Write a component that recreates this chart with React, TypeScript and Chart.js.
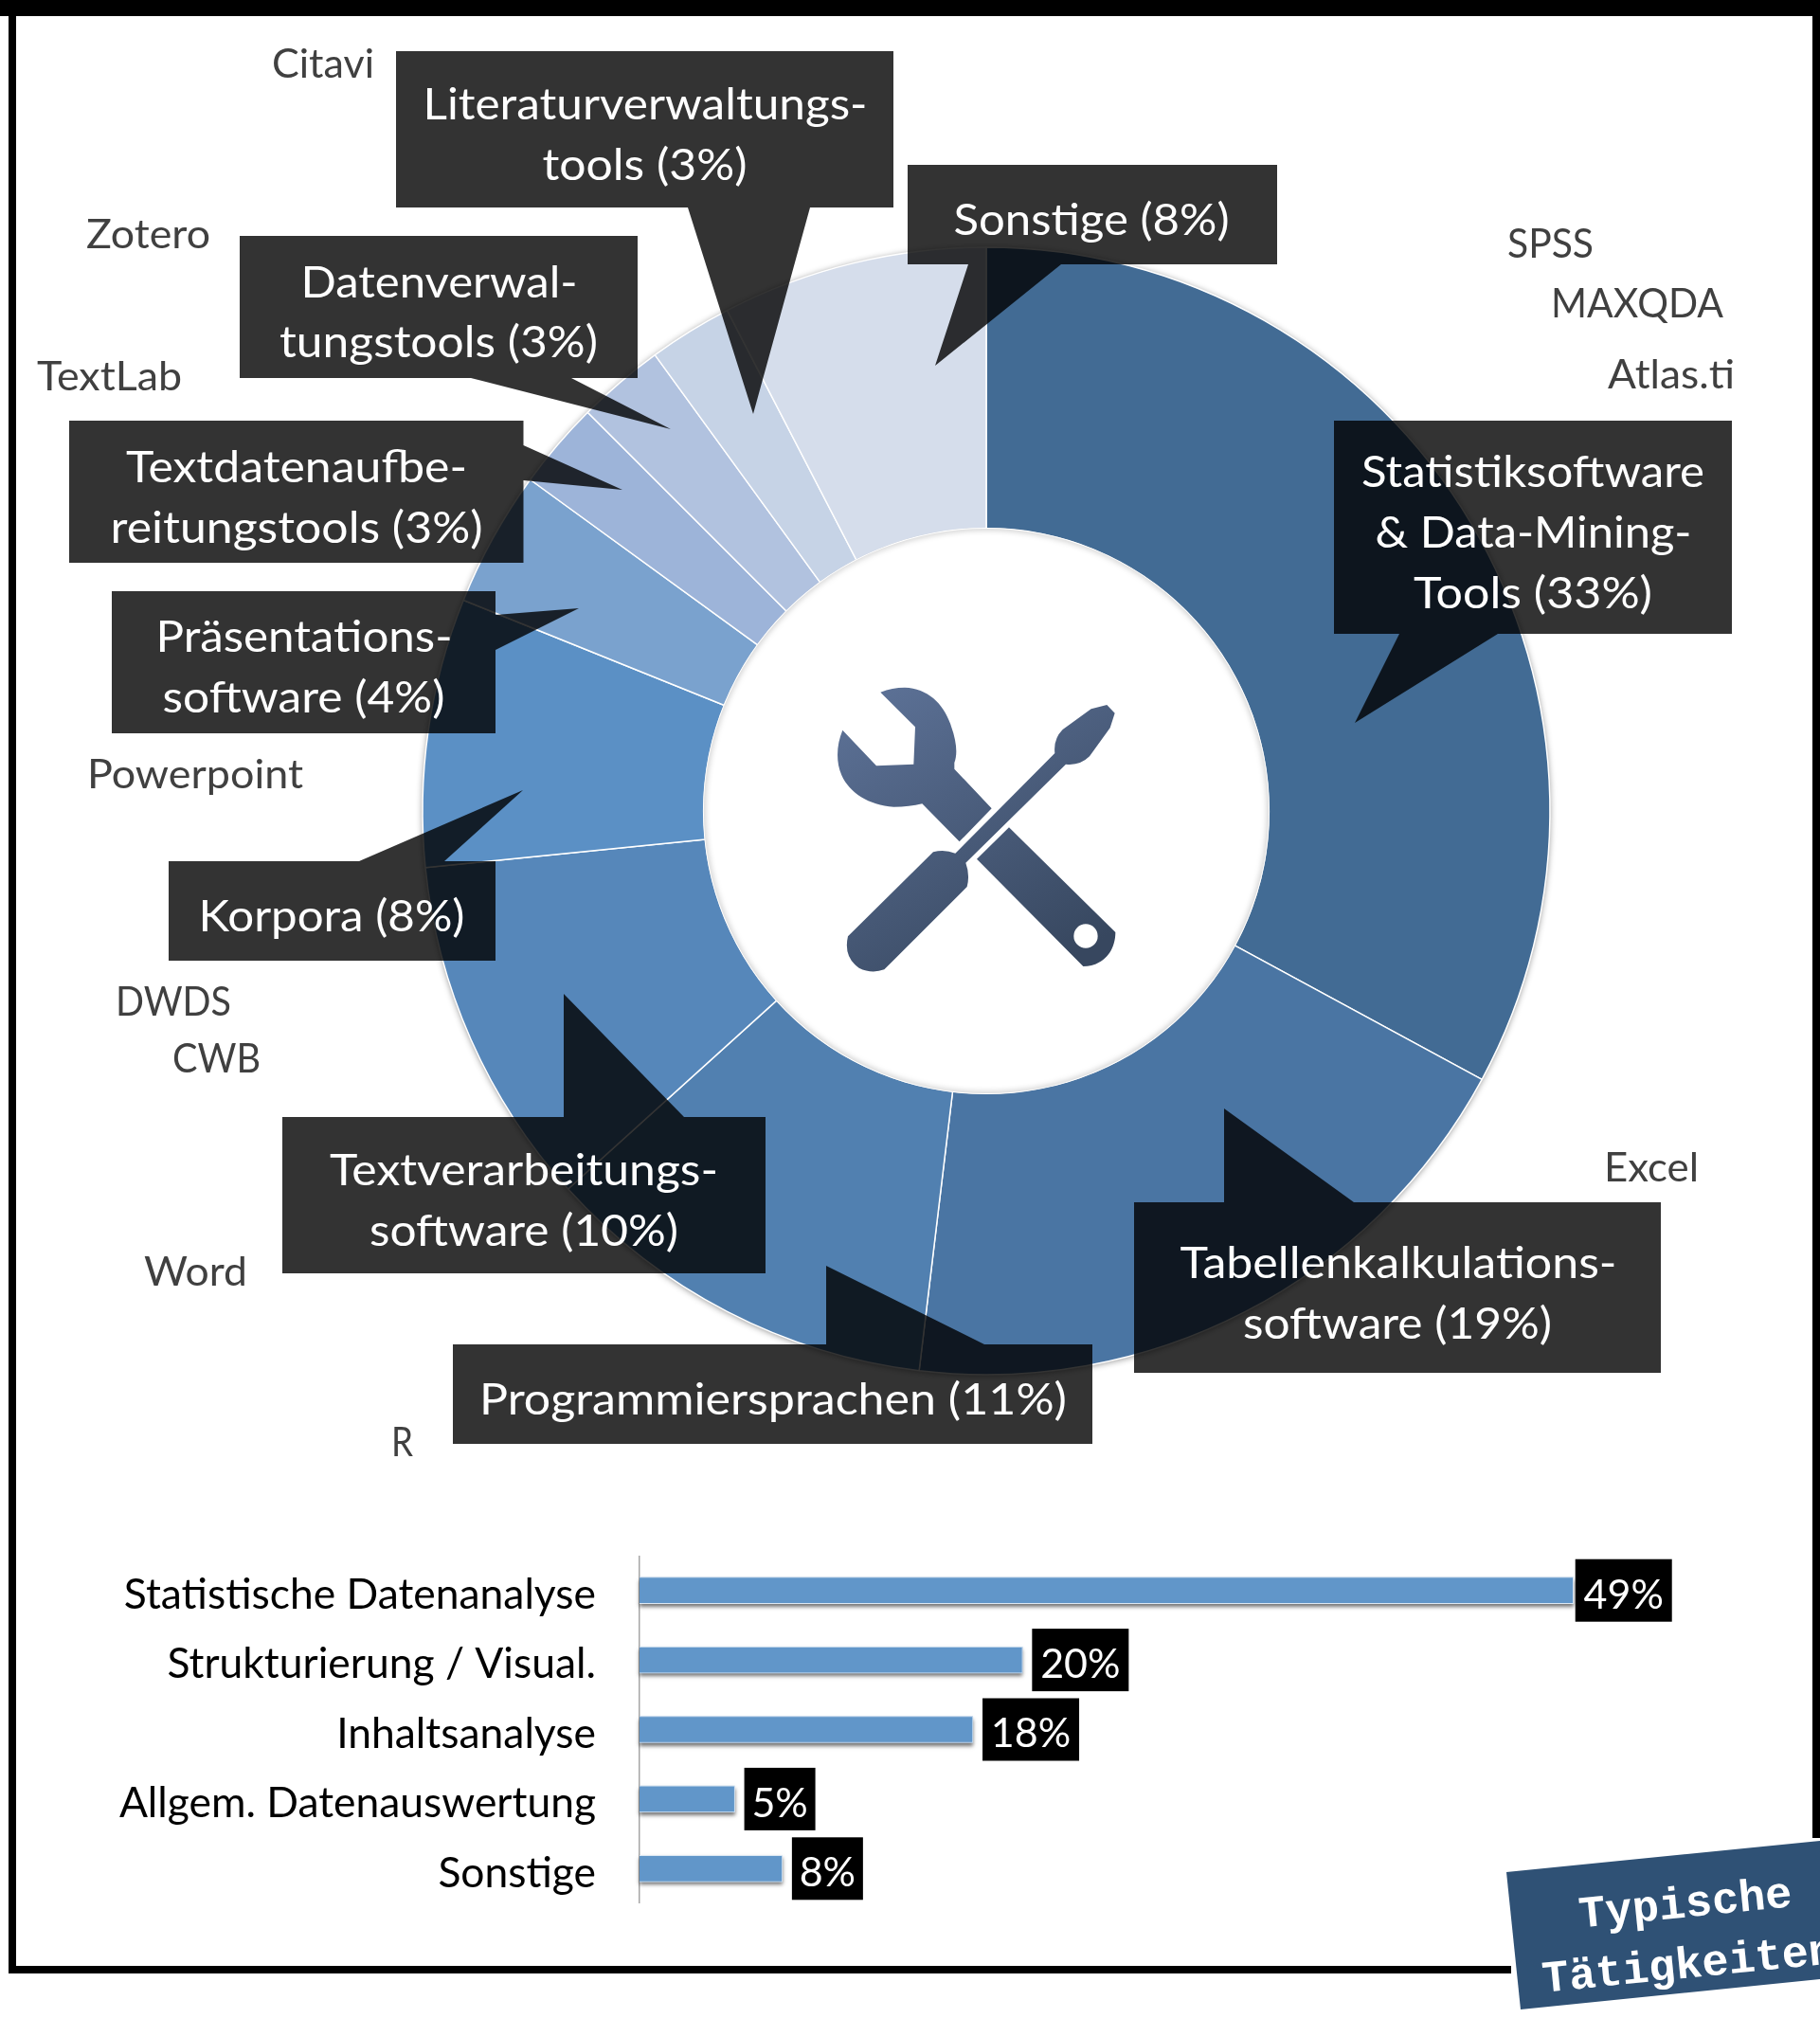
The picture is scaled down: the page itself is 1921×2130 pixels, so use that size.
import React, { useEffect, useRef } from "react";
import { Chart, registerables } from "chart.js";

Chart.register(...registerables);

const FONT = "Lato";

// ---- data: tools doughnut ----
const toolCategories = [
  "Statistiksoftware & Data-Mining-Tools",
  "Tabellenkalkulationssoftware",
  "Programmiersprachen",
  "Textverarbeitungssoftware",
  "Korpora",
  "Präsentationssoftware",
  "Textdatenaufbereitungstools",
  "Datenverwaltungstools",
  "Literaturverwaltungstools",
  "Sonstige",
];
const toolShares = [32.9, 19, 11.4, 10.1, 7.7, 3.9, 2.5, 2.5, 2.4, 7.6];
const toolColors = [
  "#426B94", "#4A75A3", "#5180B0", "#5687BA", "#5B90C5",
  "#7AA2CE", "#9DB4D9", "#B1C2DF", "#C6D3E6", "#D5DDEB",
];

// ---- data: activities bars ----
const activityCategories = [
  "Statistische Datenanalyse",
  "Strukturierung / Visual.",
  "Inhaltsanalyse",
  "Allgem. Datenauswertung",
  "Sonstige",
];
const activityValues = [49, 20.1, 17.5, 5, 7.5];
const activityLabels = ["49%", "20%", "18%", "5%", "8%"];

// ---- annotations ----
type Line = { t: string; x: number; y: number; w: number };
type Callout = { points: number[][]; lines: Line[] };

const callouts: Callout[] = [
  { // Literatur
    points: [[418, 54], [943, 54], [943, 219], [855, 219], [795, 437], [726, 219], [418, 219]],
    lines: [
      { t: "Literaturverwaltungs-", x: 681, y: 126, w: 469 },
      { t: "tools (3%)", x: 680.5, y: 190, w: 216 },
    ],
  },
  { // Daten
    points: [[253, 249], [673, 249], [673, 399], [603, 399], [708, 453], [497, 399], [253, 399]],
    lines: [
      { t: "Datenverwal-", x: 463.5, y: 314, w: 292 },
      { t: "tungstools (3%)", x: 463, y: 377, w: 336 },
    ],
  },
  { // Textdaten
    points: [[73, 444], [552.5, 444], [552.5, 470], [657, 517], [552.5, 507], [552.5, 594], [73, 594]],
    lines: [
      { t: "Textdatenaufbe-", x: 313, y: 509, w: 360 },
      { t: "reitungstools (3%)", x: 313, y: 573, w: 393 },
    ],
  },
  { // Präsentation
    points: [[118, 624], [523, 624], [523, 649], [611, 642], [523, 686], [523, 774], [118, 774]],
    lines: [
      { t: "Präsentations-", x: 321, y: 688, w: 313 },
      { t: "software (4%)", x: 320.5, y: 752, w: 298 },
    ],
  },
  { // Korpora
    points: [[178, 909], [379, 909], [552, 834], [469, 909], [523, 909], [523, 1014], [178, 1014]],
    lines: [{ t: "Korpora (8%)", x: 350, y: 983, w: 281 }],
  },
  { // Textverarbeitung
    points: [[298, 1179], [595, 1179], [595, 1049], [722, 1179], [808, 1179], [808, 1344], [298, 1344]],
    lines: [
      { t: "Textverarbeitungs-", x: 553, y: 1251, w: 410 },
      { t: "software (10%)", x: 553, y: 1315, w: 326 },
    ],
  },
  { // Programmiersprachen
    points: [[478, 1419], [872, 1419], [872, 1336], [1039, 1419], [1153, 1419], [1153, 1524], [478, 1524]],
    lines: [{ t: "Programmiersprachen (11%)", x: 816, y: 1493, w: 620 }],
  },
  { // Tabellenkalkulation
    points: [[1197, 1269], [1292, 1269], [1292, 1170], [1429, 1269], [1753, 1269], [1753, 1449], [1197, 1449]],
    lines: [
      { t: "Tabellenkalkulations-", x: 1476, y: 1349, w: 461 },
      { t: "software (19%)", x: 1475, y: 1413, w: 326 },
    ],
  },
  { // Sonstige
    points: [[958, 174], [1348, 174], [1348, 279], [1120, 279], [987, 386], [1022, 279], [958, 279]],
    lines: [{ t: "Sonstige (8%)", x: 1152, y: 248, w: 291 }],
  },
  { // Statistik
    points: [[1408, 444], [1828, 444], [1828, 669], [1581, 669], [1430, 763], [1477, 669], [1408, 669]],
    lines: [
      { t: "Statistiksoftware", x: 1618, y: 514, w: 362 },
      { t: "& Data-Mining-", x: 1618.5, y: 578, w: 334 },
      { t: "Tools (33%)", x: 1618, y: 642, w: 252 },
    ],
  },
];

const toolNames = [
  { t: "Citavi", x: 287, y: 82, w: 108 },
  { t: "Zotero", x: 91, y: 262, w: 131 },
  { t: "TextLab", x: 39, y: 412, w: 153 },
  { t: "Powerpoint", x: 92, y: 832, w: 228 },
  { t: "SPSS", x: 1591, y: 272, w: 91 },
  { t: "MAXQDA", x: 1637, y: 335, w: 182 },
  { t: "Atlas.ti", x: 1697, y: 410, w: 134 },
  { t: "DWDS", x: 122, y: 1072, w: 122 },
  { t: "CWB", x: 182, y: 1132, w: 93 },
  { t: "Word", x: 152, y: 1357, w: 109 },
  { t: "R", x: 413, y: 1537, w: 23 },
  { t: "Excel", x: 1693, y: 1247, w: 100 },
];

function Icon() {
  return (
    <g transform="translate(800,680) scale(0.33333)">
      <defs>
        <linearGradient id="iconGrad" gradientUnits="userSpaceOnUse" x1="350" y1="150" x2="900" y2="1050">
          <stop offset="0" stopColor="#5C7196" />
          <stop offset="1" stopColor="#37475F" />
        </linearGradient>
      </defs>
      <path
        fill="url(#iconGrad)"
        d="M388 152 Q425 137 465 137 C540 140 590 190 612 260 C630 310 632 350 622 375 L622 395 L740 520 L638 625 L520 505
           Q480 515 430 515 C350 510 290 470 265 415 C245 370 250 315 268 272 L375 385 L493 380 L498 262 Z"
      />
      <path
        fill="url(#iconGrad)"
        fillRule="evenodd"
        d="M795 580 L1132 912 C1132 975 1090 1020 1030 1020 L693 680 Z
           M1076 924 A38 38 0 1 0 1000 924 A38 38 0 1 0 1076 924 Z"
      />
      <path
        fill="url(#iconGrad)"
        d="M555 658 Q590 648 625 662 L940 345 Q935 300 965 270 L1055 205 L1105 192 L1130 218 L1115 265 L1050 355 Q1020 385 975 380
           L658 692 Q672 730 662 768 L400 1030 Q360 1045 320 1025 Q270 990 285 925 Z"
      />
    </g>
  );
}

function Overlay() {
  return (
    <svg
      width={1921}
      height={2130}
      style={{ position: "absolute", left: 0, top: 0, pointerEvents: "none" }}
      fontFamily={FONT}
    >
      {/* frame */}
      <rect x={0} y={0} width={1921} height={17} fill="#000" />
      <rect x={9} y={0} width={8} height={2083} fill="#000" />
      <rect x={9} y={2075} width={1586} height={8} fill="#000" />
      <rect x={1913} y={0} width={8} height={1940} fill="#000" />

      <Icon />

      {/* callouts */}
      {callouts.map((c, i) => (
        <g key={i}>
          <polygon points={c.points.map((p) => p.join(",")).join(" ")} fill="rgba(0,0,0,0.8)" />
          {c.lines.map((l) => (
            <text
              key={l.t}
              x={l.x}
              y={l.y}
              fill="#fff"
              fontSize={47}
              textAnchor="middle"
              textLength={l.w}
              lengthAdjust="spacingAndGlyphs"
            >
              {l.t}
            </text>
          ))}
        </g>
      ))}

      {/* tool names */}
      {toolNames.map((n) => (
        <text key={n.t} x={n.x} y={n.y} fill="#404040" fontSize={42} textLength={n.w} lengthAdjust="spacingAndGlyphs">
          {n.t}
        </text>
      ))}

      {/* sticker */}
      <polygon points="1590,1976 1921,1943 1921,2089 1605,2121" fill="#2F5175" />
      <g transform="rotate(-5.7 1785 2050)" fontFamily="Liberation Mono" fontWeight="bold" fill="#fff" fontSize={47} textAnchor="middle">
        <text x={1783} y={2023}>Typische</text>
        <text x={1780} y={2087}>Tätigkeiten</text>
      </g>
    </svg>
  );
}

export default function App() {
  const donutRef = useRef<HTMLCanvasElement>(null);
  const barRef = useRef<HTMLCanvasElement>(null);

  useEffect(() => {
    const ringShadow = {
      id: "ringShadow",
      beforeDatasetsDraw(chart: any) {
        const a = chart.getDatasetMeta(0).data[0];
        const ctx = chart.ctx;
        ctx.save();
        ctx.shadowColor = "rgba(0,0,0,0.45)";
        ctx.shadowBlur = 7;
        ctx.shadowOffsetY = 1;
        ctx.fillStyle = "#fff";
        ctx.beginPath();
        ctx.arc(a.x, a.y, a.outerRadius, 0, Math.PI * 2);
        ctx.fill();
        ctx.restore();
      },
      afterDatasetsDraw(chart: any) {
        const a = chart.getDatasetMeta(0).data[0];
        const ctx = chart.ctx;
        ctx.save();
        ctx.beginPath();
        ctx.arc(a.x, a.y, a.innerRadius + 1, 0, Math.PI * 2);
        ctx.clip();
        ctx.shadowColor = "rgba(0,0,0,0.5)";
        ctx.shadowBlur = 6;
        ctx.strokeStyle = "#fff";
        ctx.lineWidth = 2;
        ctx.beginPath();
        ctx.arc(a.x, a.y, a.innerRadius + 1, 0, Math.PI * 2);
        ctx.stroke();
        ctx.restore();
      },
    };

    const donut = new Chart(donutRef.current!, {
      type: "doughnut",
      data: {
        labels: toolCategories,
        datasets: [
          {
            data: toolShares,
            backgroundColor: toolColors,
            borderColor: "#fff",
            borderWidth: 1.5,
          },
        ],
      },
      options: {
        responsive: false,
        animation: false,
        radius: 595,
        cutout: "50.1%",
        plugins: { legend: { display: false }, tooltip: { enabled: false } },
      } as any,
      plugins: [ringShadow],
    });

    const barDecor = {
      id: "barDecor",
      beforeDatasetsDraw(chart: any) {
        const ctx = chart.ctx;
        ctx.save();
        ctx.shadowColor = "rgba(0,0,0,0.55)";
        ctx.shadowBlur = 4;
        ctx.shadowOffsetY = 3;
        ctx.fillStyle = "#6196C9";
        chart.getDatasetMeta(0).data.forEach((bar: any) => {
          ctx.fillRect(bar.base, bar.y - bar.height / 2, bar.x - bar.base, bar.height);
        });
        ctx.restore();
      },
      afterDatasetsDraw(chart: any) {
        const ctx = chart.ctx;
        const meta = chart.getDatasetMeta(0);
        ctx.save();
        ctx.font = `43px ${FONT}`;
        ctx.textAlign = "center";
        ctx.textBaseline = "middle";
        meta.data.forEach((bar: any, i: number) => {
          const text = activityLabels[i];
          const boxW = text.length > 2 ? 102 : 75;
          const gap = i === 0 ? 2 : 10;
          const left = bar.x + gap;
          ctx.fillStyle = "#000";
          ctx.fillRect(left, bar.y - 33, boxW, 66);
          ctx.fillStyle = "#fff";
          ctx.fillText(text, left + boxW / 2, bar.y + 5);
        });
        ctx.restore();
      },
    };

    const bars = new Chart(barRef.current!, {
      type: "bar",
      data: {
        labels: activityCategories,
        datasets: [
          {
            data: activityValues,
            backgroundColor: "#6196C9",
            borderColor: "#DDE9F4",
            borderWidth: 1,
            barThickness: 28,
            clip: false,
          } as any,
        ],
      },
      options: {
        indexAxis: "y",
        responsive: false,
        animation: false,
        layout: { padding: { right: 39 }, autoPadding: false },
        scales: {
          x: { display: false, min: 0, max: 60 },
          y: {
            afterFit(scale: any) {
              scale.width = 675;
              scale.paddingTop = 0;
              scale.paddingBottom = 0;
            },
            grid: { display: false, drawTicks: false },
            border: { display: true, color: "#A6A6A6", width: 1.5 },
            ticks: {
              padding: 46,
              color: "#000",
              font: { family: FONT, size: 44.4, lineHeight: "10px" },
              callback(this: any, v: any) {
                return ["", this.getLabelForValue(v)];
              },
            },
          },
        },
        plugins: { legend: { display: false }, tooltip: { enabled: false } },
      } as any,
      plugins: [barDecor],
    });

    return () => {
      donut.destroy();
      bars.destroy();
    };
  }, []);

  return (
    <div style={{ position: "absolute", left: 0, top: 0, width: 1921, height: 2130, background: "#fff", overflow: "hidden" }}>
      <canvas ref={donutRef} width={1240} height={1240} style={{ position: "absolute", left: 421, top: 236 }} />
      <canvas ref={barRef} width={1921} height={367} style={{ position: "absolute", left: 0, top: 1642 }} />
      <Overlay />
    </div>
  );
}
